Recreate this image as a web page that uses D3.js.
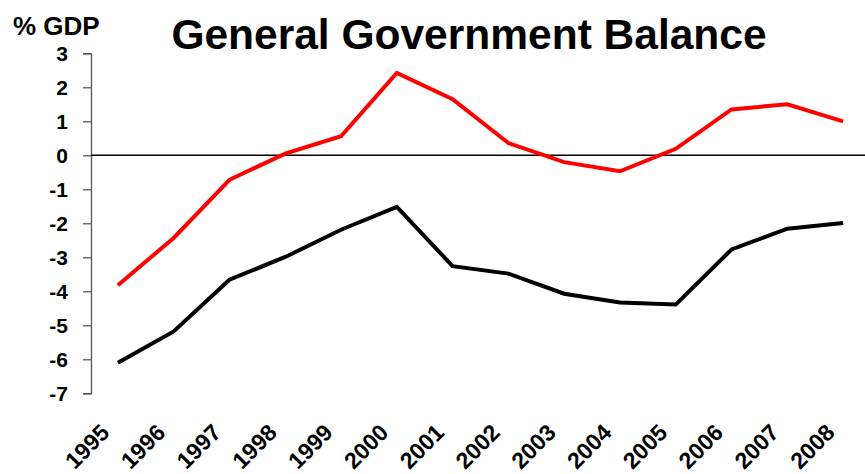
<!DOCTYPE html>
<html>
<head>
<meta charset="utf-8">
<script src="https://cdn.jsdelivr.net/npm/d3@7"></script>
<style>
  html, body { margin: 0; padding: 0; background: #fff; }
  svg { display: block; font-family: "Liberation Sans", Arial, sans-serif; }
</style>
</head>
<body>
<svg id="chart" width="865" height="474"></svg>
<script>
// Years on the x axis
const years = ["1995","1996","1997","1998","1999","2000","2001","2002","2003","2004","2005","2006","2007","2008"];
// Upper (red) balance series, % of GDP
const redSeries = [-3.82, -2.43, -0.72, 0.05, 0.56, 2.42, 1.65, 0.36, -0.20, -0.47, 0.19, 1.35, 1.50, 1.00];
// Lower (black) balance series, % of GDP
const blackSeries = [-6.10, -5.18, -3.66, -2.99, -2.19, -1.52, -3.26, -3.48, -4.07, -4.33, -4.39, -2.77, -2.16, -1.99];
// Y-axis tick values
const yTicks = [3, 2, 1, 0, -1, -2, -3, -4, -5, -6, -7];

const svg = d3.select("#chart");

const x = d3.scalePoint().domain(years).range([90, 871]).padding(0.5);
const y = d3.scaleLinear().domain([-7, 3]).range([393.3, 53.3]);

// Title and unit label
svg.append("text")
  .attr("x", 469).attr("y", 49)
  .attr("text-anchor", "middle")
  .attr("font-size", 42.5).attr("font-weight", "bold")
  .text("General Government Balance");

svg.append("text")
  .attr("x", 13).attr("y", 35)
  .attr("font-size", 26).attr("font-weight", "bold")
  .text("% GDP");

// Y axis
const yAxis = svg.append("g")
  .attr("transform", "translate(91,0)")
  .call(d3.axisLeft(y).tickValues(yTicks).tickSize(8).tickPadding(15).tickFormat(d3.format("d")));
yAxis.select(".domain").attr("stroke", "#555").attr("stroke-width", 1.3);
yAxis.selectAll(".tick line").attr("stroke", "#555").attr("stroke-width", 1.3);
yAxis.selectAll(".tick text")
  .attr("font-size", 21).attr("font-weight", "bold")
  .attr("font-family", "Liberation Sans, Arial, sans-serif")
  .attr("fill", "#000")
  .text(d => d < 0 ? "-" + Math.abs(d) : d);

// Zero reference line
svg.append("line")
  .attr("x1", 91).attr("x2", 865)
  .attr("y1", y(0)).attr("y2", y(0))
  .attr("stroke", "#000").attr("stroke-width", 1.5);

// X axis labels, rotated
svg.append("g").selectAll("text")
  .data(years).join("text")
  .attr("transform", d => `translate(${x(d) - 7},434) rotate(-45)`)
  .attr("text-anchor", "end")
  .attr("font-size", 23).attr("font-weight", "bold")
  .text(d => d);

// Series lines
const line = d3.line().x((d, i) => x(years[i])).y(d => y(d));

svg.append("path")
  .datum(redSeries)
  .attr("fill", "none").attr("stroke", "#ff0000")
  .attr("stroke-width", 4).attr("stroke-linejoin", "miter")
  .attr("d", line);

svg.append("path")
  .datum(blackSeries)
  .attr("fill", "none").attr("stroke", "#000")
  .attr("stroke-width", 4).attr("stroke-linejoin", "miter")
  .attr("d", line);
</script>
</body>
</html>
